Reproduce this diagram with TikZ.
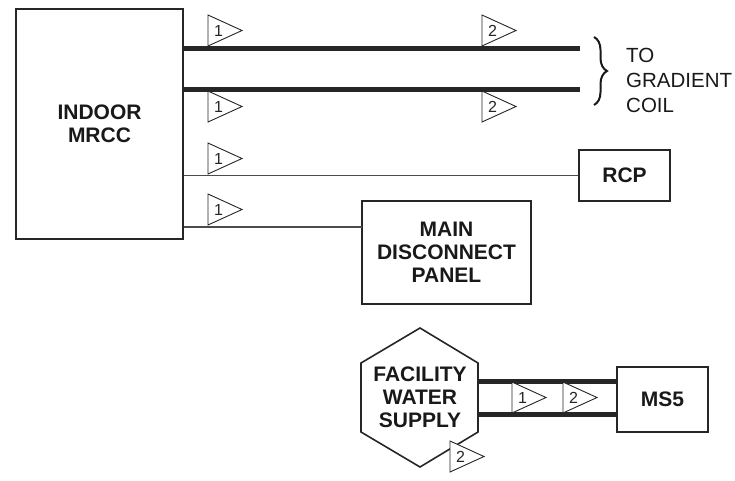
\documentclass[tikz,border=0pt]{standalone}
\usepackage{fontspec}
\setmainfont{Liberation Sans}
\usetikzlibrary{decorations.pathreplacing}
\begin{document}
\begin{tikzpicture}[x=1pt,y=-1pt,
  box/.style={draw=black!85, line width=1.8pt, inner sep=0pt, align=center,
    font=\fontsize{21}{23}\selectfont\bfseries, text=black!90},
  cablethick/.style={draw=black!85, line width=5pt},
  cablethin/.style={draw=black!70, line width=1.2pt},
  pics/flag/.style={code={
    \draw[black!85, line width=0.9pt, fill=white] (0,0) -- (0,31) -- (34,15.5) -- cycle;
    \node[font=\fontsize{16}{16}\selectfont, inner sep=0pt, text=black!85] at (10.5,16) {#1};
  }}]
\useasboundingbox (0,0) rectangle (735,480);

% boxes
\node[box, minimum width=167pt, minimum height=230pt] (mrcc) at (99.5,124) {INDOOR\\MRCC};
\node[box, minimum width=91pt, minimum height=51pt] (rcp) at (624.5,175.5) {RCP};
\node[box, minimum width=169pt, minimum height=103pt] (mdp) at (446.5,252.5) {MAIN\\DISCONNECT\\PANEL};
\node[box, minimum width=91pt, minimum height=65pt] (ms5) at (662.5,399.5) {MS5};

% hexagon
\coordinate (hT) at (420,328);
\coordinate (hUR) at (478,363);
\coordinate (hLR) at (478,432);
\coordinate (hB) at (420,467);
\coordinate (hLL) at (361,432);
\coordinate (hUL) at (361,363);
\draw[black!85, line width=1.6pt, line join=miter] (hT) -- (hUR) -- (hLR) -- (hB) -- (hLL) -- (hUL) -- cycle;
\node[align=center, inner sep=0pt, font=\fontsize{21}{23}\selectfont\bfseries, text=black!90] (fws) at (420,397) {FACILITY\\WATER\\SUPPLY};

% gradient coil cables
\coordinate (g1) at (580,48);
\coordinate (g2) at (580,89);
\draw[cablethick] (mrcc.east |- g1) -- (g1);
\draw[cablethick] (mrcc.east |- g2) -- (g2);

% thin cables
\draw[cablethin] (mrcc.east |- rcp.west) -- (rcp.west);
\coordinate (m4) at (362,227);
\draw[cablethin] (mrcc.east |- m4) -- (m4);

% water cables
\coordinate (h1) at (478,381);
\coordinate (h2) at (478,414);
\draw[cablethick] (h1) -- (h1 -| ms5.west);
\draw[cablethick] (h2) -- (h2 -| ms5.west);

% brace and label
\coordinate (b1) at (594,37);
\coordinate (b2) at (594,105);
\draw[black!90, line width=2pt, decorate, decoration={brace, amplitude=13pt}] (b1) -- (b2);
\node[anchor=west, align=left, inner sep=0pt, font=\fontsize{20.5}{25}\selectfont, text=black!90] (tgc) at (626,80) {TO\\GRADIENT\\COIL};

% flags
\pic (f1) at (208,15) {flag=1};
\pic (f2) at (482,15) {flag=2};
\pic (f3) at (208,91) {flag=1};
\pic (f4) at (482,91) {flag=2};
\pic (f5) at (208,143) {flag=1};
\pic (f6) at (208,194) {flag=1};
\pic (f7) at (512,382) {flag=1};
\pic (f8) at (563,382) {flag=2};
\pic (f9) at (450,441) {flag=2};
\end{tikzpicture}
\end{document}
